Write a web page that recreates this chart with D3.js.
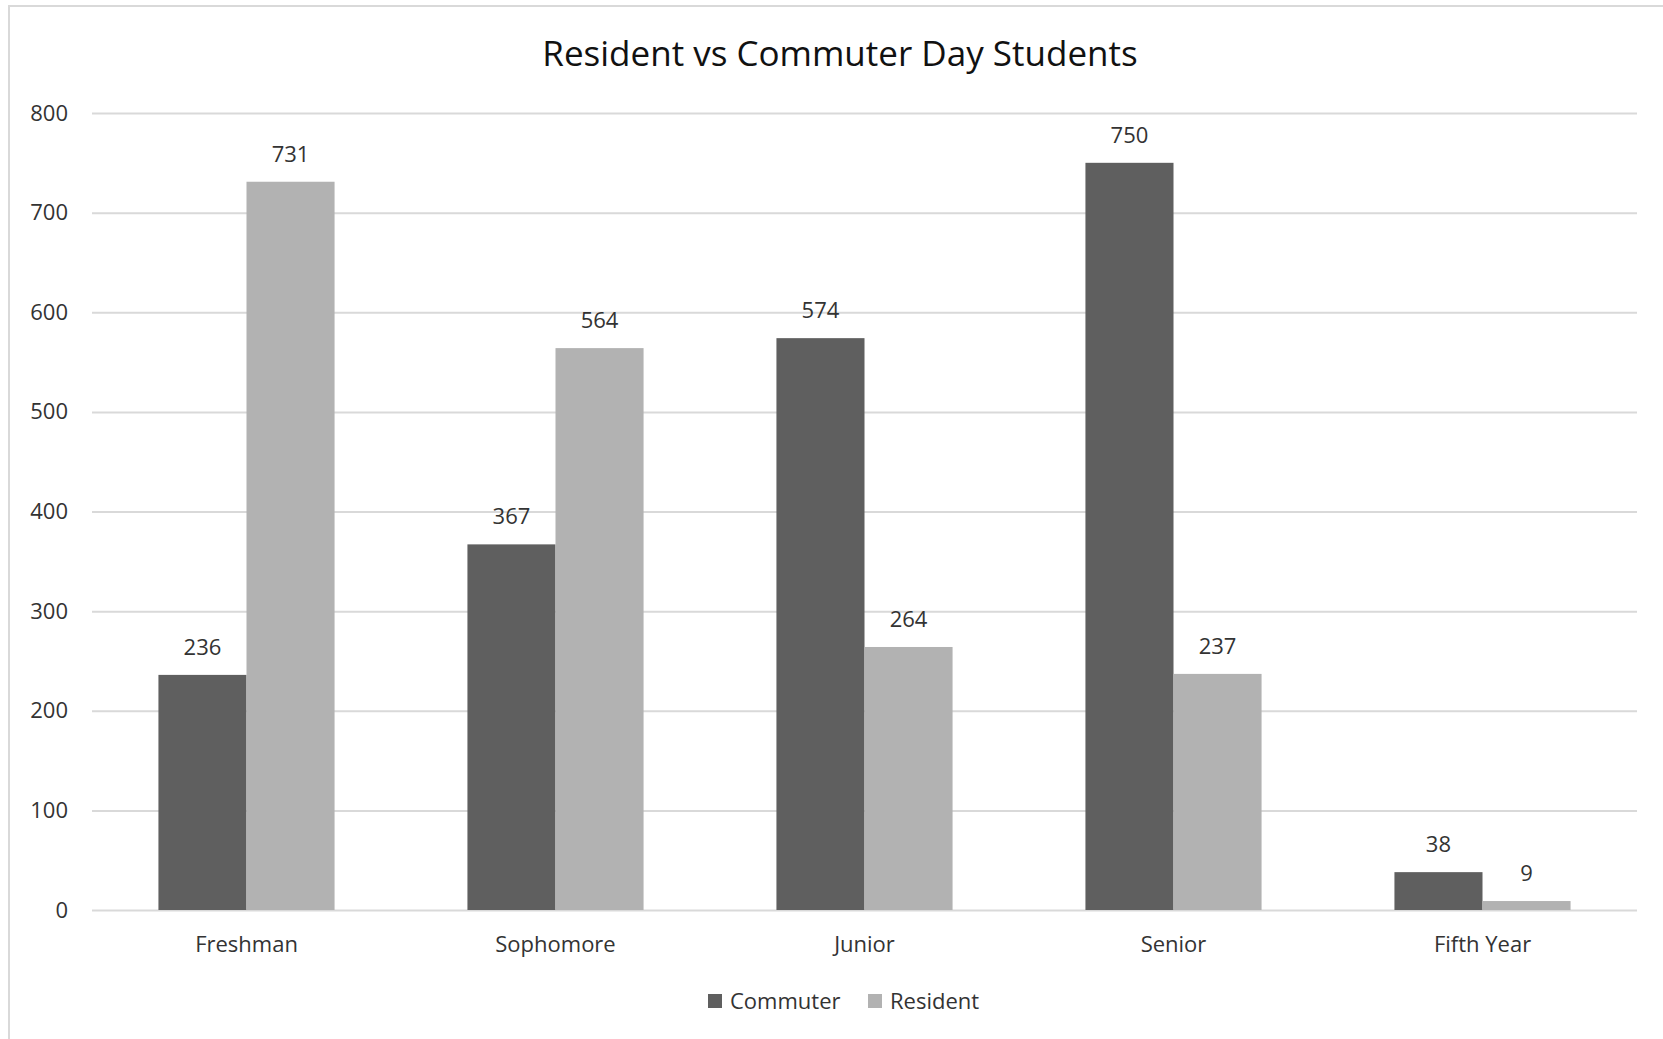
<!DOCTYPE html>
<html>
<head>
<meta charset="utf-8">
<script src="https://cdn.jsdelivr.net/npm/d3@7"></script>
<style>
  html, body { margin: 0; padding: 0; background: #fff; }
  svg { display: block; font-family: "Open Sans", "Noto Sans", sans-serif; }
</style>
</head>
<body>
<svg id="chart" width="1663" height="1039"></svg>
<script>
/* ---------- data ---------- */
const categories = ['Freshman', 'Sophomore', 'Junior', 'Senior', 'Fifth Year'];
const seriesNames = ['Commuter', 'Resident'];
const commuter = [236, 367, 574, 750, 38];
const resident = [731, 564, 264, 237, 9];
const yTicks = [0, 100, 200, 300, 400, 500, 600, 700, 800];

const seriesValues = { Commuter: commuter, Resident: resident };
const colors = { Commuter: '#5f5f5f', Resident: '#b2b2b2' };

/* ---------- layout ---------- */
const W = 1663, H = 1039;
const plot = { left: 92, right: 1637, top: 113, bottom: 910 };
const textColor = '#333333';
const gridColor = '#d9d9d9';
const fontSize = 22;

const svg = d3.select('#chart');

// chart-area border (runs off the right and bottom edge like the original)
svg.append('rect')
  .attr('x', 9).attr('y', 6)
  .attr('width', W + 40).attr('height', H + 40)
  .attr('fill', '#fff')
  .attr('stroke', gridColor)
  .attr('stroke-width', 2);

/* ---------- scales ---------- */
const x0 = d3.scaleBand()
  .domain(categories)
  .range([plot.left, plot.right])
  .paddingInner(0.43)
  .paddingOuter(0.215);

const x1 = d3.scaleBand()
  .domain(seriesNames)
  .range([0, x0.bandwidth()]);

const y = d3.scaleLinear()
  .domain([0, 800])
  .range([plot.bottom, plot.top]);

/* ---------- y axis + gridlines ---------- */
const yAxis = svg.append('g')
  .attr('transform', `translate(${plot.left},0)`)
  .call(d3.axisLeft(y)
    .tickValues(yTicks)
    .tickSize(-(plot.right - plot.left))
    .tickPadding(24));

yAxis.select('.domain').remove();
yAxis.selectAll('.tick line')
  .attr('stroke', gridColor)
  .attr('stroke-width', 2);
yAxis.selectAll('.tick text')
  .attr('fill', textColor)
  .attr('font-size', fontSize)
  .attr('font-family', '"Open Sans", sans-serif');

/* ---------- x axis labels ---------- */
const xAxis = svg.append('g')
  .attr('transform', `translate(0,${plot.bottom})`)
  .call(d3.axisBottom(x0).tickSize(0).tickPadding(26));

xAxis.select('.domain').remove();
xAxis.selectAll('.tick text')
  .attr('fill', textColor)
  .attr('font-size', fontSize)
  .attr('font-family', '"Open Sans", sans-serif');

/* ---------- bars ---------- */
const groups = svg.append('g')
  .selectAll('g')
  .data(categories)
  .join('g')
  .attr('transform', c => `translate(${x0(c)},0)`);

const cells = groups.selectAll('g')
  .data((c, i) => seriesNames.map(s => ({ series: s, value: seriesValues[s][i] })))
  .join('g');

cells.append('rect')
  .attr('x', d => x1(d.series))
  .attr('y', d => y(d.value))
  .attr('width', x1.bandwidth())
  .attr('height', d => y(0) - y(d.value))
  .attr('fill', d => colors[d.series]);

cells.append('text')
  .attr('x', d => x1(d.series) + x1.bandwidth() / 2)
  .attr('y', d => y(d.value) - 20)
  .attr('text-anchor', 'middle')
  .attr('fill', textColor)
  .attr('font-size', fontSize)
  .text(d => d.value);

/* ---------- title ---------- */
svg.append('text')
  .attr('x', 840)
  .attr('y', 66)
  .attr('text-anchor', 'middle')
  .attr('fill', '#111111')
  .attr('font-size', 35)
  .text('Resident vs Commuter Day Students');

/* ---------- legend ---------- */
const legendPos = { Commuter: 708, Resident: 868 };
const legend = svg.append('g')
  .selectAll('g')
  .data(seriesNames)
  .join('g')
  .attr('transform', s => `translate(${legendPos[s]},994)`);

legend.append('rect')
  .attr('width', 14).attr('height', 14)
  .attr('fill', s => colors[s]);

legend.append('text')
  .attr('x', 22)
  .attr('y', 15)
  .attr('fill', textColor)
  .attr('font-size', fontSize)
  .text(s => s);
</script>
</body>
</html>
